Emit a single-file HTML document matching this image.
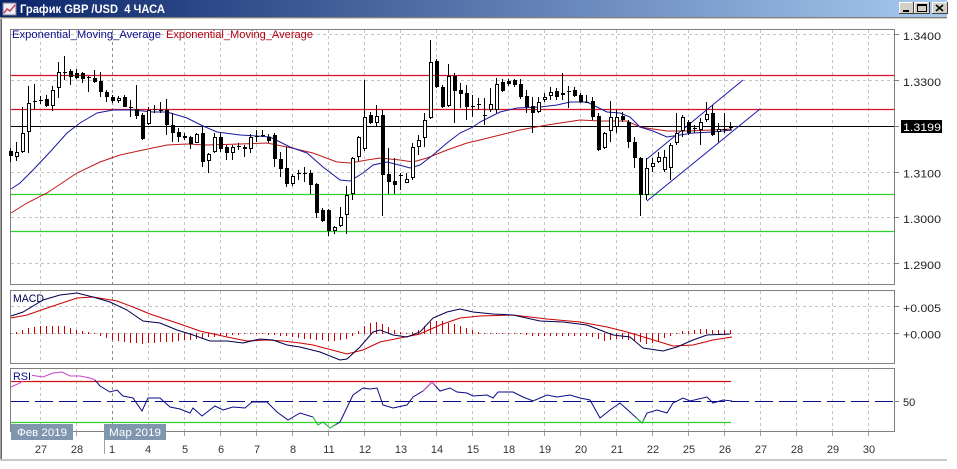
<!DOCTYPE html>
<html><head><meta charset="utf-8"><style>
html,body{margin:0;padding:0;background:#fff;width:957px;height:469px;overflow:hidden}
svg{display:block}
text{font-family:"Liberation Sans","DejaVu Sans",sans-serif}
</style></head><body>
<svg width="957" height="469" viewBox="0 0 957 469" xmlns="http://www.w3.org/2000/svg">
<defs>
<linearGradient id="tb" x1="0" y1="0" x2="1" y2="0">
<stop offset="0" stop-color="#0a246a"/><stop offset="1" stop-color="#a6caf0"/>
</linearGradient>
</defs>
<rect x="0" y="0" width="957" height="469" fill="#fff"/>
<rect x="0" y="0" width="947" height="17" fill="url(#tb)"/>
<rect x="0" y="17" width="947" height="1" fill="#808080"/>
<rect x="0" y="18" width="947" height="1" fill="#d4d0c8"/>
<rect x="3" y="3" width="13" height="12" fill="#eef0f8" stroke="#7a7a90" stroke-width="1"/>
<polyline points="4,13 7,9 10,11 15,5" fill="none" stroke="#d04060" stroke-width="1.5"/>
<text x="20" y="13" font-size="12" font-weight="bold" fill="#fff" textLength="145" lengthAdjust="spacingAndGlyphs">График GBP /USD&#160; 4 ЧАСА</text>
<rect x="899" y="2" width="14" height="12" fill="#d4d0c8"/>
<path d="M899.5 13.5V2.5H912.5" stroke="#fff" fill="none"/>
<path d="M899 13.5H913.5V2" stroke="#404040" fill="none"/>
<rect x="903" y="10" width="6" height="2" fill="#000"/>
<rect x="914" y="2" width="15" height="12" fill="#d4d0c8"/>
<path d="M914.5 13.5V2.5H928.5" stroke="#fff" fill="none"/>
<path d="M914 13.5H929.5V2" stroke="#404040" fill="none"/>
<rect x="917.5" y="4.5" width="9" height="7" fill="none" stroke="#000"/>
<rect x="917" y="4" width="10" height="2" fill="#000"/>
<rect x="932" y="2" width="15" height="12" fill="#d4d0c8"/>
<path d="M932.5 13.5V2.5H946.5" stroke="#fff" fill="none"/>
<path d="M932 13.5H947.5V2" stroke="#404040" fill="none"/>
<path d="M936 5L943 11M943 5L936 11" stroke="#000" stroke-width="1.6"/>
<rect x="0" y="19" width="1" height="441" fill="#a0a0a0"/>
<rect x="1" y="19" width="1" height="441" fill="#606060"/>
<rect x="0" y="459" width="947" height="2" fill="#c8c8c8"/>
<g stroke="#c4c4c4" stroke-width="1" stroke-dasharray="3 3" fill="none">
<path d="M40.5 30V284M40.5 291V363M40.5 369V431M76.5 30V284M76.5 291V363M76.5 369V431M148.5 30V284M148.5 291V363M148.5 369V431M184.5 30V284M184.5 291V363M184.5 369V431M220.5 30V284M220.5 291V363M220.5 369V431M256.5 30V284M256.5 291V363M256.5 369V431M292.5 30V284M292.5 291V363M292.5 369V431M328.5 30V284M328.5 291V363M328.5 369V431M364.5 30V284M364.5 291V363M364.5 369V431M400.5 30V284M400.5 291V363M400.5 369V431M436.5 30V284M436.5 291V363M436.5 369V431M472.5 30V284M472.5 291V363M472.5 369V431M508.5 30V284M508.5 291V363M508.5 369V431M544.5 30V284M544.5 291V363M544.5 369V431M580.5 30V284M580.5 291V363M580.5 369V431M616.5 30V284M616.5 291V363M616.5 369V431M652.5 30V284M652.5 291V363M652.5 369V431M688.5 30V284M688.5 291V363M688.5 369V431M724.5 30V284M724.5 291V363M724.5 369V431M760.5 30V284M760.5 291V363M760.5 369V431M796.5 30V284M796.5 291V363M796.5 369V431M832.5 30V284M832.5 291V363M832.5 369V431M868.5 30V284M868.5 291V363M868.5 369V431"/>
<path d="M11 34.5H894M11 80.5H894M11 172.5H894M11 217.5H894M11 263.5H894M11 306.5H894M11 333.5H894"/>
</g>
<path d="M112.5 30V284M112.5 291V363M112.5 369V431" stroke="#8c8c8c" stroke-dasharray="3 3" fill="none"/>
<g fill="none" stroke="#808080" stroke-width="1">
<rect x="10.5" y="29.5" width="884" height="255"/>
<rect x="10.5" y="290.5" width="884" height="73"/>
<rect x="10.5" y="368.5" width="884" height="63"/>
</g>
<path d="M894 34.5H899M894 80.5H899M894 126.5H899M894 172.5H899M894 217.5H899M894 263.5H899M894 306.5H899M894 333.5H899M894 401.5H899" stroke="#808080" stroke-width="1"/>
<path d="M40.5 432V436M76.5 432V436M148.5 432V436M184.5 432V436M220.5 432V436M256.5 432V436M292.5 432V436M328.5 432V436M364.5 432V436M400.5 432V436M436.5 432V436M472.5 432V436M508.5 432V436M544.5 432V436M580.5 432V436M616.5 432V436M652.5 432V436M688.5 432V436M724.5 432V436M760.5 432V436M796.5 432V436M832.5 432V436M868.5 432V436" stroke="#a0a0a0" stroke-width="1"/>
<line x1="11" y1="75.5" x2="894" y2="75.5" stroke="#d8102a" stroke-width="1.2"/>
<line x1="11" y1="109.5" x2="894" y2="109.5" stroke="#d8102a" stroke-width="1.2"/>
<line x1="11" y1="194.5" x2="894" y2="194.5" stroke="#30d030" stroke-width="1.2"/>
<line x1="11" y1="231.5" x2="894" y2="231.5" stroke="#30d030" stroke-width="1.2"/>
<line x1="11" y1="126.5" x2="894" y2="126.5" stroke="#000" stroke-width="1"/>
<polyline fill="none" stroke="#c01818" stroke-width="1" points="11,213 27,203 47,193 77,173 100,162 120,155 143,150 167,145 187,144 207,145 240,144 267,143 287,147 313,153 337,162 350,163 367,160 380,158 400,160 413,162 427,158 447,150 467,143 480,140 500,135 520,130 547,125 580,120 600,121 627,121 640,127 653,129 667,131 687,131 713,130 732,129"/>
<polyline fill="none" stroke="#1818a0" stroke-width="1" points="11,189 20,183 33,170 50,152 67,133 80,123 97,113 113,110 133,110 153,112 167,112 187,118 203,126 217,132 240,135 257,136 270,137 290,147 307,153 323,167 340,180 350,181 363,173 373,165 387,162 403,166 410,168 420,165 433,155 447,143 460,133 473,127 480,122 500,112 517,108 540,107 557,105 570,102 587,102 597,107 607,112 620,113 630,117 640,127 653,131 667,137 680,135 693,133 713,132 732,130"/>
<path d="M647 159L743 80M647 201L760 109" stroke="#1a1aaa" stroke-width="1" fill="none"/>
<path stroke="#000" stroke-width="1" fill="none" d="M10.5 148V162M16.5 142V161M22.5 107V153M28.5 86V153M34.5 84V110M40.5 96V104M46.5 95V107M52.5 86V111M58.5 62V98M64.5 56V80M70.5 69V85M76.5 69V79M82.5 72V83M88.5 76V92M94.5 70V83M100.5 72V97M106.5 90V102M112.5 95V103M118.5 96V103M124.5 95V107M130.5 100V117M136.5 85V119M142.5 113V140M148.5 107V125M154.5 105V113M160.5 102V113M166.5 99V135M172.5 113V142M178.5 128V142M184.5 133V140M190.5 136V149M196.5 133V143M202.5 127V167M208.5 153V173M214.5 133V153M220.5 133V152M226.5 145V160M232.5 145V160M238.5 143V150M244.5 145V157M250.5 134V153M256.5 130V142M262.5 130V137M268.5 134V143M274.5 133V167M280.5 152V177M286.5 147V187M292.5 174V186M298.5 170V180M304.5 167V182M310.5 170V194M316.5 183V218M322.5 208V222M328.5 209V236M334.5 226V234M340.5 207V227M346.5 186V234M352.5 157V200M358.5 136V161M364.5 80V151M370.5 112V124M376.5 105V127M382.5 110V216M388.5 148V194M394.5 158V194M400.5 173V190M406.5 173V183M412.5 143V180M418.5 135V155M424.5 113V147M430.5 40V119M436.5 59V88M442.5 85V108M448.5 64V107M454.5 73V123M460.5 83V108M466.5 85V120M472.5 95V117M478.5 98V110M484.5 98V125M490.5 88V112M496.5 78V113M502.5 79V92M508.5 79V86M514.5 79V87M520.5 79V99M526.5 90V113M532.5 97V133M538.5 97V113M544.5 93V102M550.5 87V100M556.5 88V100M562.5 73V100M568.5 86V108M574.5 87V97M580.5 93V103M586.5 95V103M592.5 97V120M598.5 113V151M604.5 132V149M610.5 101V142M616.5 110V133M622.5 112V122M628.5 120V148M634.5 137V168M640.5 157V216M646.5 158V200M652.5 158V172M658.5 152V163M664.5 150V172M670.5 143V180M676.5 113V145M682.5 115V137M688.5 120V135M694.5 125V133M700.5 118V145M706.5 102V122M712.5 105V136M718.5 123V142M724.5 113V133M730.5 122V130"/>
<path fill="#000" d="M9 151h4v5h-4zM45 99h4v7h-4zM69 71h4v6h-4zM75 73h4v5h-4zM81 73h4v6h-4zM93 78h4v4h-4zM99 81h4v11h-4zM105 92h4v5h-4zM111 97h4v4h-4zM123 97h4v10h-4zM135 109h4v7h-4zM141 115h4v24h-4zM165 110h4v15h-4zM171 125h4v8h-4zM177 132h4v5h-4zM183 136h4v2h-4zM189 137h4v7h-4zM201 133h4v29h-4zM219 137h4v12h-4zM225 147h4v6h-4zM243 147h4v2h-4zM267 137h4v4h-4zM273 135h4v24h-4zM279 159h4v10h-4zM285 168h4v16h-4zM309 173h4v12h-4zM315 184h4v29h-4zM321 210h4v11h-4zM327 210h4v21h-4zM369 115h4v8h-4zM381 115h4v60h-4zM387 174h4v8h-4zM393 181h4v4h-4zM435 61h4v26h-4zM441 87h4v20h-4zM453 76h4v15h-4zM459 90h4v4h-4zM465 93h4v14h-4zM501 82h4v9h-4zM507 81h4v3h-4zM513 80h4v5h-4zM519 84h4v13h-4zM525 96h4v11h-4zM531 106h4v7h-4zM555 91h4v6h-4zM573 90h4v6h-4zM579 95h4v7h-4zM591 101h4v16h-4zM597 116h4v34h-4zM621 116h4v4h-4zM627 122h4v20h-4zM633 142h4v16h-4zM639 158h4v37h-4zM687 122h4v11h-4zM711 113h4v22h-4z"/>
<g fill="#fff" stroke="#000" stroke-width="1">
<rect x="15.5" y="152.5" width="3" height="4"/>
<rect x="21.5" y="133.5" width="3" height="18"/>
<rect x="27.5" y="103.5" width="3" height="28"/>
<rect x="51.5" y="90.5" width="3" height="15"/>
<rect x="57.5" y="72.5" width="3" height="15"/>
<rect x="117.5" y="98.5" width="3" height="2"/>
<rect x="147.5" y="110.5" width="3" height="13"/>
<rect x="195.5" y="134.5" width="3" height="8"/>
<rect x="207.5" y="154.5" width="3" height="6"/>
<rect x="213.5" y="137.5" width="3" height="14"/>
<rect x="231.5" y="147.5" width="3" height="5"/>
<rect x="249.5" y="137.5" width="3" height="11"/>
<rect x="291.5" y="176.5" width="3" height="7"/>
<rect x="333.5" y="227.5" width="3" height="3"/>
<rect x="339.5" y="217.5" width="3" height="8"/>
<rect x="345.5" y="195.5" width="3" height="19"/>
<rect x="351.5" y="158.5" width="3" height="35"/>
<rect x="357.5" y="137.5" width="3" height="19"/>
<rect x="363.5" y="117.5" width="3" height="31"/>
<rect x="375.5" y="116.5" width="3" height="6"/>
<rect x="405.5" y="179.5" width="3" height="3"/>
<rect x="411.5" y="147.5" width="3" height="30"/>
<rect x="417.5" y="140.5" width="3" height="6"/>
<rect x="423.5" y="120.5" width="3" height="17"/>
<rect x="429.5" y="62.5" width="3" height="55"/>
<rect x="447.5" y="76.5" width="3" height="29"/>
<rect x="489.5" y="104.5" width="3" height="5"/>
<rect x="495.5" y="84.5" width="3" height="25"/>
<rect x="537.5" y="102.5" width="3" height="9"/>
<rect x="543.5" y="97.5" width="3" height="2"/>
<rect x="549.5" y="92.5" width="3" height="3"/>
<rect x="561.5" y="93.5" width="3" height="1"/>
<rect x="603.5" y="133.5" width="3" height="14"/>
<rect x="609.5" y="117.5" width="3" height="13"/>
<rect x="615.5" y="117.5" width="3" height="9"/>
<rect x="645.5" y="168.5" width="3" height="26"/>
<rect x="651.5" y="163.5" width="3" height="3"/>
<rect x="657.5" y="157.5" width="3" height="4"/>
<rect x="663.5" y="157.5" width="3" height="12"/>
<rect x="669.5" y="145.5" width="3" height="22"/>
<rect x="675.5" y="133.5" width="3" height="9"/>
<rect x="681.5" y="117.5" width="3" height="13"/>
<rect x="699.5" y="122.5" width="3" height="7"/>
<rect x="705.5" y="114.5" width="3" height="5"/>
<rect x="717.5" y="129.5" width="3" height="2"/>
</g>
<path stroke="#000" stroke-width="1" fill="none" d="M33 101.5h4M39 100.5h4M63 72.5h4M87 77.5h4M129 107.5h4M153 109.5h4M159 110.5h4M237 146.5h4M255 136.5h4M261 135.5h4M297 173.5h4M303 173.5h4M399 175.5h4M471 106.5h4M477 104.5h4M483 115.5h4M567 91.5h4M585 102.5h4M693 128.5h4M723 129.5h4M729 127.5h4"/>
<text x="12" y="38" font-size="11" fill="#0c0c8c" textLength="149" lengthAdjust="spacingAndGlyphs">Exponential_Moving_Average</text>
<text x="166" y="38" font-size="11" fill="#b00010" textLength="147" lengthAdjust="spacingAndGlyphs">Exponential_Moving_Average</text>
<path stroke="#cc0000" stroke-width="1" fill="none" d="M10.5 333V334M16.5 334V332M22.5 334V330M28.5 334V328M34.5 334V327M40.5 334V326M46.5 334V326M52.5 334V326M58.5 334V326M64.5 334V326M70.5 334V328M76.5 334V330M82.5 334V331M88.5 334V332M94.5 333V334M100.5 333V336M106.5 333V338M112.5 333V340M118.5 333V341M124.5 333V342M130.5 333V343M136.5 333V343M142.5 333V344M148.5 333V343M154.5 333V343M160.5 333V342M166.5 333V342M172.5 333V342M178.5 333V341M184.5 333V340M190.5 333V340M196.5 333V339M202.5 333V338M208.5 333V337M214.5 333V337M220.5 333V336M226.5 333V336M232.5 333V335M238.5 333V335M244.5 333V334M250.5 333V334M256.5 333V334M262.5 333V334M268.5 333V335M274.5 333V335M280.5 333V336M286.5 333V336M292.5 333V337M298.5 333V338M304.5 333V339M310.5 333V339M316.5 333V340M322.5 333V340M328.5 333V341M334.5 333V341M340.5 333V340M346.5 333V339M352.5 333V336M358.5 334V331M364.5 334V326M370.5 334V323M376.5 334V322M382.5 334V324M388.5 334V327M394.5 334V330M400.5 334V332M406.5 333V334M412.5 334V332M418.5 334V330M424.5 334V326M430.5 334V322M436.5 334V321M442.5 334V321M448.5 334V323M454.5 334V324M460.5 334V326M466.5 334V328M472.5 334V330M478.5 334V332M484.5 333V334M490.5 333V334M496.5 333V334M502.5 333V334M508.5 333V334M514.5 333V334M520.5 333V334M526.5 333V335M532.5 333V336M538.5 333V336M544.5 333V336M550.5 333V336M556.5 333V336M562.5 333V336M568.5 333V336M574.5 333V336M580.5 333V336M586.5 333V336M592.5 333V337M598.5 333V339M604.5 333V341M610.5 333V340M616.5 333V339M622.5 333V339M628.5 333V340M634.5 333V341M640.5 333V342M646.5 333V344M652.5 333V343M658.5 333V341M664.5 333V338M670.5 333V336M676.5 333V334M682.5 334V331M688.5 334V331M694.5 334V330M700.5 334V329M706.5 334V329M712.5 334V330M718.5 334V330M724.5 334V330M730.5 334V330"/>
<polyline fill="none" stroke="#cc0000" stroke-width="1" points="11,318 27,315 50,307 77,298 93,297 117,301 133,307 150,314 177,323 200,331 227,337 247,341 267,340 283,341 300,343 313,345 347,354 363,350 380,342 400,338 420,334 440,325 460,318 480,316 513,315 547,319 580,322 607,327 627,332 647,338 673,346 693,345 713,340 732,337"/>
<polyline fill="none" stroke="#000050" stroke-width="1" points="11,316 23,312 43,300 60,295 77,293 93,297 110,302 127,310 143,321 160,323 177,330 193,335 210,341 227,341 243,343 260,339 273,340 287,345 300,347 320,352 340,360 347,359 360,347 373,332 380,330 393,335 407,337 420,332 433,318 447,312 460,309 473,312 493,314 513,315 540,321 563,322 587,325 600,330 613,335 630,337 643,348 663,351 677,347 693,340 707,335 730,334"/>
<text x="13" y="302" font-size="11" fill="#000050" textLength="31" lengthAdjust="spacingAndGlyphs">MACD</text>
<line x1="11" y1="381.5" x2="731" y2="381.5" stroke="#d01010" stroke-width="1.2"/>
<line x1="11" y1="422.5" x2="731" y2="422.5" stroke="#30d030" stroke-width="1.2"/>
<line x1="11" y1="401.5" x2="894" y2="401.5" stroke="#0a0a8a" stroke-width="1" stroke-dasharray="18 6"/>
<polyline fill="none" stroke="#0a0a8a" stroke-width="1" points="95,380 100,386 110,392 117,390 123,396 133,398 142,411 148,398 160,398 170,407 180,409 190,413 193,408 202,416 215,406 223,410 233,407 245,408 252,402 267,402 277,412 288,420 300,413 313,417 318,425 323,422 330,428 340,422 353,395 363,388 370,389 377,388 383,405 393,408 407,405 413,397 423,391 432,382 440,391 450,388 457,392 467,393 473,396 487,395 493,398 498,392 513,392 523,397 533,401 547,395 557,397 570,395 580,398 590,400 600,418 610,410 620,403 630,412 642,423 647,413 657,410 667,413 673,403 683,398 690,401 707,397 713,403 723,400 732,401"/>
<polyline fill="none" stroke="#cc44cc" stroke-width="1" points="11,387 20,383 30,375 43,377 53,373 62,372 70,376 80,376 90,378 95,380"/>
<polyline fill="none" stroke="#cc44cc" stroke-width="1" points="423,391 432,382 436,386"/>
<polyline fill="none" stroke="#30d030" stroke-width="1" points="313,417 318,425 323,422 330,428 336,424"/>
<polyline fill="none" stroke="#30d030" stroke-width="1" points="636,418 642,423 645,418"/>
<rect x="11" y="370" width="21" height="11" fill="#fff"/>
<text x="13" y="380" font-size="11" fill="#0a0a8a" textLength="18" lengthAdjust="spacingAndGlyphs">RSI</text>
<g font-size="11" fill="#222">
<text x="903" y="40" textLength="38" lengthAdjust="spacingAndGlyphs">1.3400</text>
<text x="903" y="86" textLength="38" lengthAdjust="spacingAndGlyphs">1.3300</text>
<text x="903" y="177.5" textLength="38" lengthAdjust="spacingAndGlyphs">1.3100</text>
<text x="903" y="223" textLength="38" lengthAdjust="spacingAndGlyphs">1.3000</text>
<text x="903" y="269" textLength="38" lengthAdjust="spacingAndGlyphs">1.2900</text>
<text x="903" y="312" textLength="38" lengthAdjust="spacingAndGlyphs">+0.005</text>
<text x="903" y="338.5" textLength="38" lengthAdjust="spacingAndGlyphs">+0.000</text>
<text x="903" y="406">50</text>
</g>
<rect x="901" y="120" width="41" height="13" fill="#000"/>
<text x="903" y="131" font-size="11" fill="#fff" textLength="38" lengthAdjust="spacingAndGlyphs">1.3199</text>
<rect x="11" y="424" width="62" height="16" fill="#7f96ae"/>
<text x="17" y="436" font-size="11" fill="#fff" textLength="50" lengthAdjust="spacingAndGlyphs">Фев 2019</text>
<rect x="104" y="424" width="62" height="16" fill="#7f96ae"/>
<text x="109" y="436" font-size="11" fill="#fff" textLength="52" lengthAdjust="spacingAndGlyphs">Мар 2019</text>
<line x1="104.5" y1="440" x2="104.5" y2="454" stroke="#a0a0a0" stroke-width="1"/>
<g font-size="11" fill="#333" text-anchor="middle">
<text x="41" y="453">27</text><text x="77" y="453">28</text><text x="112" y="453">1</text><text x="148" y="453">4</text>
<text x="185" y="453">5</text><text x="221" y="453">6</text><text x="257" y="453">7</text><text x="293" y="453">8</text>
<text x="329" y="453">11</text><text x="365" y="453">12</text><text x="401" y="453">13</text><text x="437" y="453">14</text>
<text x="473" y="453">15</text><text x="509" y="453">18</text><text x="545" y="453">19</text><text x="581" y="453">20</text>
<text x="617" y="453">21</text><text x="653" y="453">22</text><text x="689" y="453">25</text><text x="725" y="453">26</text>
<text x="761" y="453">27</text><text x="797" y="453">28</text><text x="833" y="453">29</text><text x="869" y="453">30</text>
</g>
</svg>
</body></html>
